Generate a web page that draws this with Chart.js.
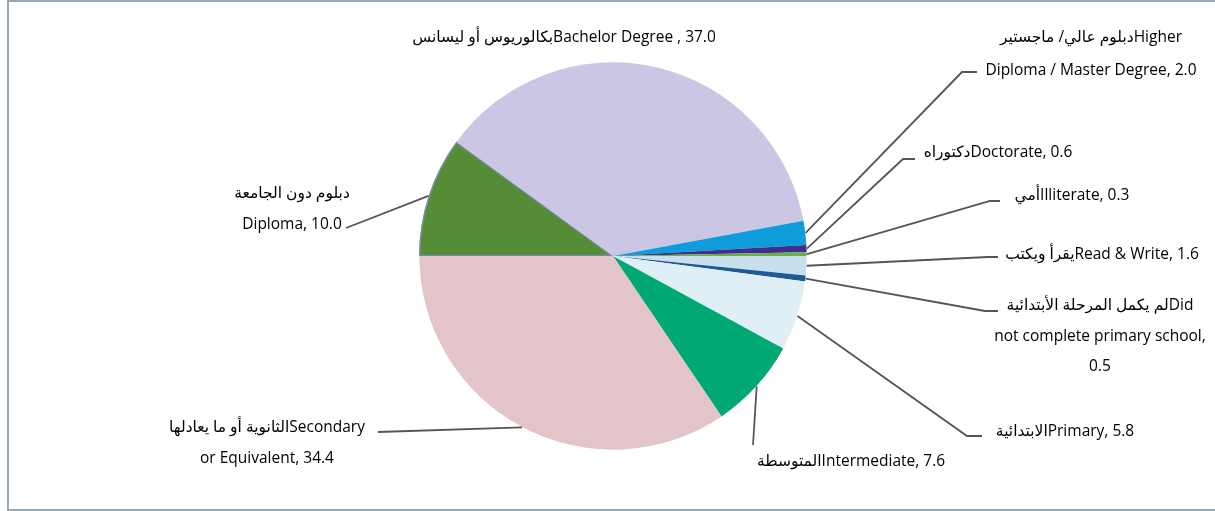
<!DOCTYPE html>
<html>
<head>
<meta charset="utf-8">
<script src="https://cdn.jsdelivr.net/npm/chart.js@4/dist/chart.umd.min.js"></script>
<style>
  html, body { margin: 0; padding: 0; background: #fff; }
  canvas { display: block; }
</style>
</head>
<body>
<canvas id="eduPie" width="1215" height="511"></canvas>
<script>
// slices run clockwise starting at 9 o'clock
const categoriesAr = ['دبلوم دون الجامعة\n', 'بكالوريوس أو ليسانس', 'دبلوم عالي/ ماجستير', 'دكتوراه', 'أمي', 'يقرأ ويكتب', 'لم يكمل المرحلة الأبتدائية', 'الابتدائية', 'المتوسطة', 'الثانوية أو ما يعادلها'];
const categoriesEn = ['Diploma', 'Bachelor Degree', 'Higher\nDiploma / Master Degree', 'Doctorate', 'Illiterate', 'Read & Write', 'Did\nnot complete primary school', 'Primary', 'Intermediate', 'Secondary\nor Equivalent'];
const values = [10.0, 37.0, 2.0, 0.6, 0.3, 1.6, 0.5, 5.8, 7.6, 34.4];

const colors = ['#548D36', '#CBC6E3', '#0E9CDB', '#3D2F8F', '#6CAE49', '#C8E0EE', '#1E5A94', '#E0EEF5', '#00A974', '#E2C4C9'];

// where each label sits (center x, line middles) and the leader line bends
const labelLayout = [
  { cx: 292, ys: [194, 225], sep: ', ', pts: [[346, 228]] },
  { cx: 564, ys: [38], sep: ' , ', pts: null },
  { cx: 1091, ys: [38, 71], sep: ', ', pts: [[962, 72], [977, 72]] },
  { cx: 998, ys: [153], sep: ', ', pts: [[903, 159], [915, 159]] },
  { cx: 1072, ys: [196], sep: ', ', pts: [[990, 201], [1000, 201]] },
  { cx: 1102, ys: [255], sep: ', ', pts: [[988, 257], [998, 257]] },
  { cx: 1100, ys: [306, 337, 367], sep: ',\n', pts: [[985, 311], [998, 311]] },
  { cx: 1065, ys: [432], sep: ', ', pts: [[967, 436], [982, 436]] },
  { cx: 851, ys: [462], sep: ', ', pts: [[753, 445]] },
  { cx: 267, ys: [428, 459], sep: ', ', pts: [[378, 432]] }
];

const labelsPlugin = {
  id: 'pieLabels',
  beforeDraw(chart) {
    const ctx = chart.ctx;
    ctx.save();
    ctx.strokeStyle = '#9AA9B8';
    ctx.lineWidth = 2;
    ctx.strokeRect(8, 1, 1215, 509);
    ctx.restore();
  },
  afterDraw(chart) {
    const ctx = chart.ctx;
    const arcs = chart.getDatasetMeta(0).data;
    ctx.save();
    arcs.forEach((arc, i) => {
      const lay = labelLayout[i];
      const p = arc.getProps(['x', 'y', 'startAngle', 'endAngle', 'outerRadius'], true);
      const mid = (p.startAngle + p.endAngle) / 2;
      if (lay.pts) {
        ctx.beginPath();
        ctx.moveTo(p.x + Math.cos(mid) * p.outerRadius, p.y + Math.sin(mid) * p.outerRadius);
        lay.pts.forEach(q => ctx.lineTo(q[0], q[1]));
        ctx.strokeStyle = '#555';
        ctx.lineWidth = 1.8;
        ctx.stroke();
      }
      const text = categoriesAr[i] + categoriesEn[i] + lay.sep + values[i].toFixed(1);
      const lines = text.split('\n');
      ctx.fillStyle = '#000';
      ctx.font = '15.5px "Open Sans", "DejaVu Sans", sans-serif';
      ctx.textAlign = 'center';
      ctx.textBaseline = 'middle';
      lines.forEach((ln, k) => ctx.fillText(ln, lay.cx, lay.ys[k]));
    });
    ctx.restore();
  }
};

new Chart(document.getElementById('eduPie').getContext('2d'), {
  type: 'pie',
  data: {
    labels: categoriesEn,
    datasets: [{
      data: values,
      backgroundColor: colors,
      borderColor: '#7B8BA8',
      borderWidth: [1.2, 0, 0, 0, 0, 0, 0, 0, 0, 0],
      borderAlign: 'inner'
    }]
  },
  options: {
    responsive: false,
    animation: false,
    devicePixelRatio: 1,
    rotation: -90,
    layout: { padding: { left: 419, right: 408, top: 62, bottom: 61 } },
    plugins: {
      legend: { display: false },
      tooltip: { enabled: false }
    }
  },
  plugins: [labelsPlugin]
});
</script>
</body>
</html>
